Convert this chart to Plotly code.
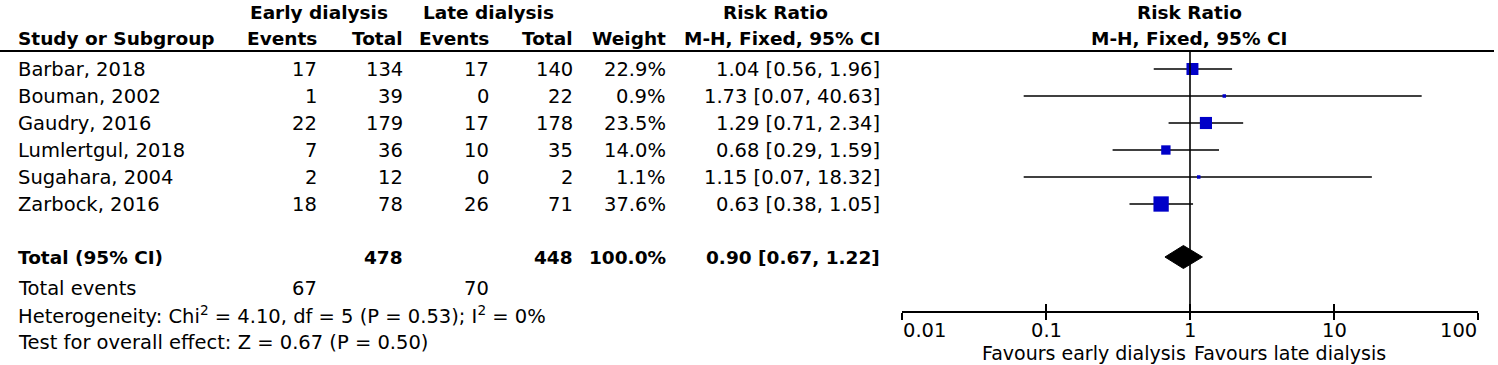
import numpy as np
import plotly.graph_objects as go

# ---------------- data ----------------
studies = ["Barbar, 2018", "Bouman, 2002", "Gaudry, 2016", "Lumlertgul, 2018",
           "Sugahara, 2004", "Zarbock, 2016"]
early_events = [17, 1, 22, 7, 2, 18]
early_total = [134, 39, 179, 36, 12, 78]
late_events = [17, 0, 17, 10, 0, 26]
late_total = [140, 22, 178, 35, 2, 71]
weights = [22.9, 0.9, 23.5, 14.0, 1.1, 37.6]
rr = [1.04, 1.73, 1.29, 0.68, 1.15, 0.63]
rr_lo = [0.56, 0.07, 0.71, 0.29, 0.07, 0.38]
rr_hi = [1.96, 40.63, 2.34, 1.59, 18.32, 1.05]

total_early_n = 478
total_late_n = 448
total_weight = 100.0
total_rr, total_lo, total_hi = 0.90, 0.67, 1.22
total_early_events = 67
total_late_events = 70
heterogeneity = "Heterogeneity: Chi<sup>2</sup> = 4.10, df = 5 (P = 0.53); I<sup>2</sup> = 0%"
overall = "Test for overall effect: Z = 0.67 (P = 0.50)"

tick_vals = [0.01, 0.1, 1, 10, 100]
tick_text = ["0.01", "0.1", "1", "10", "100"]

# ---------------- layout constants (pixels) ----------------
W, H = 1498, 365
FONT = "DejaVu Sans"
FS = 19.5      # regular text
FSB = 18.5     # bold text
FSF = 19       # favours labels
ROW0, STEP = 69, 27
HDR1, HDR2, HLINE = 12, 38, 51
Y_TOTAL, Y_TEV, Y_HET, Y_TEST = 257, 288, 315, 342
Y_AXIS = 312
Y_TICKLAB = 330
Y_FAV = 353
X_NAME = 17
X_EV1, X_N1, X_EV2, X_N2, X_W, X_RR = 318, 404, 490, 574, 667, 881
FOREST_L, FOREST_R = 902, 1478
BLUE = "#0000c8"

rows_y = [ROW0 + STEP * i for i in range(len(studies))]

fig = go.Figure()

# CI lines
for lo, hi, y in zip(rr_lo, rr_hi, rows_y):
    fig.add_trace(go.Scatter(x=[lo, hi], y=[y, y], mode="lines",
                             line=dict(color="black", width=1.6),
                             hoverinfo="skip", showlegend=False))

# squares sized by weight (area ~ weight)
sizes = [max(3.5, 2.5 * np.sqrt(w)) for w in weights]
fig.add_trace(go.Scatter(x=rr, y=rows_y, mode="markers",
                         marker=dict(symbol="square", size=sizes, color=BLUE,
                                     opacity=1, line=dict(width=0)),
                         showlegend=False))

# diamond for total
dh = 11.5
fig.add_trace(go.Scatter(x=[total_lo, total_rr, total_hi, total_rr, total_lo],
                         y=[Y_TOTAL, Y_TOTAL - dh, Y_TOTAL, Y_TOTAL + dh, Y_TOTAL],
                         mode="lines", fill="toself", fillcolor="black",
                         line=dict(color="black", width=1), showlegend=False))

# line of no effect (on overlay axis that carries the downward ticks)
fig.add_trace(go.Scatter(x=[1, 1], y=[HLINE, Y_AXIS], mode="lines",
                         line=dict(color="black", width=1.6), xaxis="x2",
                         showlegend=False))

ann = []


def txt(x, y, s, anchor="right", bold=False):
    size = FS
    if bold:
        s = "<b>" + s + "</b>"
        size = FSB
    ann.append(dict(x=x / W, y=y, xref="paper", yref="y",
                    text=s, showarrow=False, xanchor=anchor, yanchor="middle",
                    font=dict(family=FONT, size=size, color="black"), borderpad=0))


# headers
txt(249, HDR1, "Early dialysis", "left", True)
txt(422, HDR1, "Late dialysis", "left", True)
txt(775, HDR1, "Risk Ratio", "center", True)
txt(1189, HDR1, "Risk Ratio", "center", True)
txt(X_NAME, HDR2, "Study or Subgroup", "left", True)
txt(X_EV1, HDR2, "Events", bold=True)
txt(X_N1, HDR2, "Total", bold=True)
txt(X_EV2, HDR2, "Events", bold=True)
txt(X_N2, HDR2, "Total", bold=True)
txt(X_W, HDR2, "Weight", bold=True)
txt(X_RR, HDR2, "M-H, Fixed, 95% CI", bold=True)
txt(1189, HDR2, "M-H, Fixed, 95% CI", "center", True)

# study rows
for i, y in enumerate(rows_y):
    txt(X_NAME, y, studies[i], "left")
    txt(X_EV1, y, str(early_events[i]))
    txt(X_N1, y, str(early_total[i]))
    txt(X_EV2, y, str(late_events[i]))
    txt(X_N2, y, str(late_total[i]))
    txt(X_W, y, f"{weights[i]:.1f}%")
    txt(X_RR, y, f"{rr[i]:.2f} [{rr_lo[i]:.2f}, {rr_hi[i]:.2f}]")

# totals
txt(X_NAME, Y_TOTAL, "Total (95% CI)", "left", True)
txt(X_N1, Y_TOTAL, str(total_early_n), bold=True)
txt(X_N2, Y_TOTAL, str(total_late_n), bold=True)
txt(X_W, Y_TOTAL, f"{total_weight:.1f}%", bold=True)
txt(X_RR, Y_TOTAL, f"{total_rr:.2f} [{total_lo:.2f}, {total_hi:.2f}]", bold=True)
txt(X_NAME, Y_TEV, "Total events", "left")
txt(X_EV1, Y_TEV, str(total_early_events))
txt(X_EV2, Y_TEV, str(total_late_events))
txt(X_NAME, Y_HET, heterogeneity, "left")
txt(X_NAME, Y_TEST, overall, "left")

# axis tick labels, placed on the log axis scale (end labels kept inside the span)
for k, (v, t) in enumerate(zip(tick_vals, tick_text)):
    anchor = "left" if k == 0 else ("right" if k == len(tick_vals) - 1 else "center")
    ann.append(dict(x=np.log10(v), y=Y_TICKLAB, xref="x", yref="y", text=t,
                    showarrow=False, xanchor=anchor, yanchor="middle", borderpad=0,
                    font=dict(family=FONT, size=FS, color="black")))

# favours labels
ann.append(dict(x=0, y=Y_FAV, xref="x", yref="y", text="Favours early dialysis",
                showarrow=False, xanchor="right", yanchor="middle", xshift=-3,
                borderpad=0, font=dict(family=FONT, size=FSF, color="black")))
ann.append(dict(x=0, y=Y_FAV, xref="x", yref="y", text="Favours late dialysis",
                showarrow=False, xanchor="left", yanchor="middle", xshift=3,
                borderpad=0, font=dict(family=FONT, size=FSF, color="black")))

axis_pos = 1 - Y_AXIS / H
dom = [FOREST_L / W, FOREST_R / W]
common_x = dict(type="log", range=[-2, 2], domain=dom, anchor="free",
                position=axis_pos, showgrid=False, zeroline=False,
                showline=True, linecolor="black", linewidth=1.6,
                tickvals=tick_vals, tickwidth=1.6, ticklen=7, tickcolor="black",
                showticklabels=False)

fig.update_layout(
    width=W, height=H,
    margin=dict(l=0, r=0, t=0, b=0),
    paper_bgcolor="white", plot_bgcolor="white",
    xaxis=dict(**common_x, ticks="inside"),
    xaxis2=dict(**common_x, ticks="outside", overlaying="x"),
    yaxis=dict(range=[H, 0], domain=[0, 1], visible=False, fixedrange=True),
    shapes=[dict(type="line", xref="paper", yref="y", x0=0, x1=1494 / W,
                 y0=HLINE, y1=HLINE, line=dict(color="black", width=2.2))],
    annotations=ann,
    showlegend=False,
)

fig.write_html("out.html",
               config={"displayModeBar": False},
               post_script="document.body.style.margin='0px';"
                           "document.body.style.overflow='hidden';")
